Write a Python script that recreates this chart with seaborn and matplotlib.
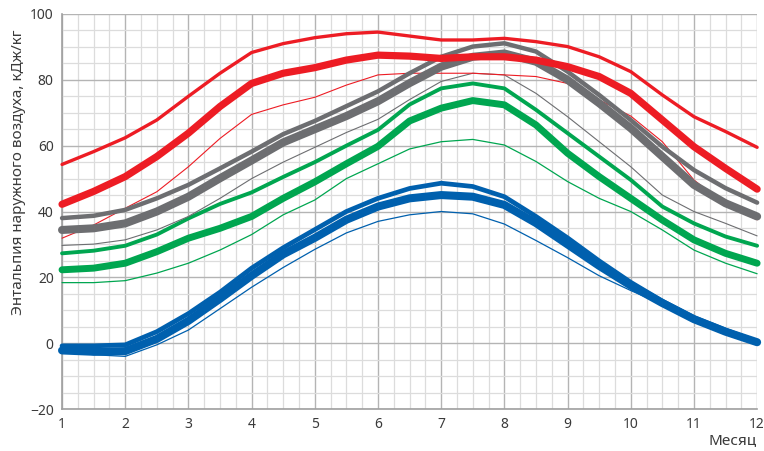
import numpy as np
import pandas as pd
import seaborn as sns
import matplotlib.pyplot as plt
from matplotlib.ticker import MultipleLocator

# readings every half month
months = [1, 1.5, 2, 2.5, 3, 3.5, 4, 4.5, 5, 5.5, 6, 6.5,
          7, 7.5, 8, 8.5, 9, 9.5, 10, 10.5, 11, 11.5, 12]

# red group
red_max = [54.3, 58.2, 62.4, 67.8, 75.0, 82.0, 88.3, 91.0, 92.8, 94.0, 94.5, 93.3,
           92.1, 92.1, 92.6, 91.6, 90.1, 87.0, 82.5, 75.4, 68.8, 64.3, 59.5]
red_mean = [42.2, 46.1, 50.6, 56.7, 63.8, 71.9, 78.9, 82.0, 83.7, 86.0, 87.5, 87.2,
            86.5, 87.0, 87.0, 86.0, 84.0, 81.0, 75.9, 67.8, 59.7, 53.1, 46.8]
red_min = [31.9, 35.9, 41.0, 46.0, 53.6, 62.2, 69.5, 72.4, 74.7, 78.4, 81.5, 82.0,
           82.0, 82.0, 81.5, 81.0, 78.9, 73.9, 69.0, 61.2, 49.6, 42.0, 37.5]

# gray group
gray_max = [38.0, 38.7, 40.5, 44.0, 48.1, 53.1, 58.2, 63.5, 67.5, 72.0, 76.5, 82.0,
            87.0, 90.1, 91.1, 88.6, 82.5, 75.4, 67.8, 59.7, 52.6, 47.1, 42.7]
gray_mean = [34.4, 34.9, 36.4, 40.0, 44.5, 50.1, 55.5, 61.0, 65.0, 69.0, 73.5, 79.0,
             84.0, 87.0, 88.0, 85.5, 80.0, 72.9, 65.3, 56.7, 48.1, 42.5, 38.5]
gray_min = [29.7, 30.1, 31.4, 34.4, 38.5, 44.0, 50.0, 55.0, 59.5, 64.0, 68.0, 74.0,
            79.5, 82.0, 81.5, 75.9, 68.8, 61.2, 53.6, 45.0, 40.0, 36.4, 32.6]

# green group
green_max = [27.3, 28.1, 29.6, 33.0, 37.9, 42.3, 45.8, 50.5, 55.0, 60.0, 64.8, 72.5,
             77.4, 78.9, 77.4, 70.9, 63.8, 56.7, 49.6, 41.5, 36.4, 32.4, 29.6]
green_mean = [22.3, 22.8, 24.3, 27.8, 31.9, 34.9, 38.5, 44.0, 49.0, 54.5, 59.8, 67.5,
              71.4, 73.7, 72.4, 66.3, 57.7, 50.6, 44.0, 37.4, 31.4, 27.3, 24.3]
green_min = [18.4, 18.4, 19.0, 21.3, 24.3, 28.3, 33.0, 39.0, 43.5, 50.0, 54.5, 59.0,
             61.2, 61.9, 60.2, 55.2, 49.1, 44.0, 40.0, 34.4, 28.3, 24.3, 21.1]

# blue group
blue_max = [-0.8, -0.8, -0.5, 3.5, 9.0, 15.5, 22.8, 29.0, 34.5, 40.0, 44.0, 47.0,
            48.6, 47.6, 44.5, 38.5, 32.0, 25.0, 18.5, 12.8, 7.8, 4.0, 0.5]
blue_mean = [-2.2, -2.6, -2.4, 1.3, 6.8, 13.5, 20.5, 27.0, 32.0, 37.5, 41.5, 44.0,
             45.0, 44.5, 42.0, 36.5, 30.0, 23.5, 17.5, 12.2, 7.3, 3.5, 0.3]
blue_min = [-2.2, -3.5, -4.0, -0.5, 4.0, 10.5, 17.0, 23.0, 28.5, 33.5, 37.0, 39.0,
            40.0, 39.3, 36.2, 31.2, 26.0, 20.5, 16.0, 11.8, 7.6, 4.0, 0.3]

RED = "#ed1c24"
GRAY = "#6d6e71"
GREEN = "#00a650"
BLUE = "#0060ae"

series = [
    (green_min, GREEN, 0.9), (green_max, GREEN, 2.8), (green_mean, GREEN, 5.0),
    (blue_min, BLUE, 0.9), (blue_max, BLUE, 3.4), (blue_mean, BLUE, 5.8),
    (gray_min, GRAY, 0.8), (red_min, RED, 0.8),
    (gray_max, GRAY, 3.2), (gray_mean, GRAY, 5.8),
    (red_max, RED, 2.4), (red_mean, RED, 5.2),
]

sns.set_theme(style="white")
plt.rcParams["font.family"] = ["Noto Sans", "DejaVu Sans"]

fig = plt.figure(figsize=(7.64, 4.51), dpi=100)
ax = fig.add_axes([0.0812, 0.093, 0.9098, 0.876])

for values, color, lw in series:
    df = pd.DataFrame({"Месяц": months, "h": values})
    sns.lineplot(data=df, x="Месяц", y="h", color=color, linewidth=lw,
                 ax=ax, solid_capstyle="round", solid_joinstyle="round",
                 clip_on=False, zorder=3)

ax.set_xlim(1, 12)
ax.set_ylim(-20, 100)
ax.xaxis.set_major_locator(MultipleLocator(1))
ax.xaxis.set_minor_locator(MultipleLocator(0.25))
ax.yaxis.set_major_locator(MultipleLocator(20))
ax.yaxis.set_minor_locator(MultipleLocator(5))
ax.grid(which="minor", color="#dcdcdc", linewidth=0.9)
ax.grid(which="major", color="#b4b4b4", linewidth=1.0)
ax.set_axisbelow(True)

for s in ["top", "right"]:
    ax.spines[s].set_visible(False)
for s in ["left", "bottom"]:
    ax.spines[s].set_color("#a0a0a0")
    ax.spines[s].set_linewidth(1.2)

ax.tick_params(which="both", length=0, labelsize=10, colors="#3a3a3a", pad=6)

ax.set_ylabel("Энтальпия наружного воздуха, кДж/кг", fontsize=11, color="#3a3a3a")
ax.yaxis.set_label_coords(-0.052, 0.60)
ax.set_xlabel("Месяц", fontsize=11, color="#3a3a3a", loc="right")
ax.xaxis.set_label_coords(1.0, -0.06)

fig.savefig("out.png", dpi=100)
